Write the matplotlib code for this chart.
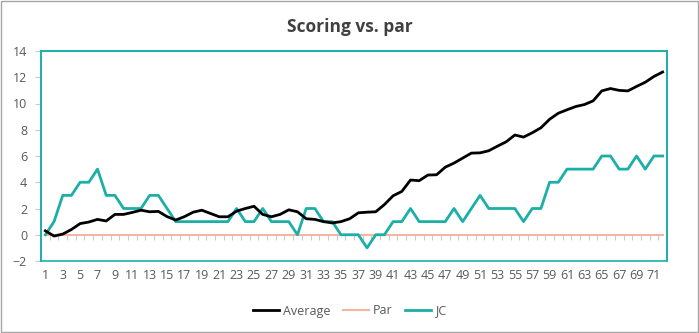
"""Scoring vs. par line chart."""
import matplotlib
matplotlib.use("Agg")
import matplotlib.pyplot as plt
from matplotlib.patches import Rectangle
import numpy as np

holes = list(range(1, 73))
average = [0.3, -0.1, 0.05, 0.4, 0.85, 0.97, 1.17, 1.05, 1.55, 1.55,
           1.7, 1.87, 1.75, 1.78, 1.38, 1.12, 1.38, 1.72, 1.87, 1.62,
           1.37, 1.37, 1.8, 2.0, 2.17, 1.55, 1.37, 1.55, 1.9, 1.75,
           1.22, 1.17, 1.0, 0.9, 1.0, 1.22, 1.67, 1.72, 1.75, 2.3,
           2.97, 3.3, 4.17, 4.12, 4.55, 4.57, 5.15, 5.46, 5.84, 6.22,
           6.24, 6.4, 6.75, 7.08, 7.6, 7.44, 7.77, 8.15, 8.8, 9.26,
           9.52, 9.77, 9.92, 10.2, 10.96, 11.14, 11.0, 10.96, 11.3, 11.62,
           12.06, 12.4]
par = [0] * 72
jc = [0, 1, 3, 3, 4, 4, 5, 3, 3, 2,
      2, 2, 3, 3, 2, 1, 1, 1, 1, 1,
      1, 1, 2, 1, 1, 2, 1, 1, 1, 0,
      2, 2, 1, 1, 0, 0, 0, -1, 0, 0,
      1, 1, 2, 1, 1, 1, 1, 2, 1, 2,
      3, 2, 2, 2, 2, 1, 2, 2, 4, 4,
      5, 5, 5, 5, 6, 6, 5, 5, 6, 5,
      6, 6]
y_ticks = list(range(-2, 15, 2))
x_labels = list(range(1, 72, 2))

plt.rcParams['font.family'] = ['Open Sans', 'DejaVu Sans']
text_grey = '#595959'
teal = '#1BAFA8'

fig = plt.figure(figsize=(6.99, 3.33), dpi=100)
ax = fig.add_axes([41 / 699, 72 / 333, 626 / 699, 210 / 333])

ax.plot(holes, average, color='black', lw=2, label='Average', zorder=4)
ax.plot(holes, par, color='#F5B5A4', lw=1.5, label='Par', zorder=2)
ax.plot(holes, jc, color=teal, lw=2, label='JC', zorder=3)

ax.set_xlim(0.5, 72.5)
ax.set_ylim(-2, 14)
ax.set_yticks(y_ticks)
ax.tick_params(axis='y', length=4, color='#C8C8C8', labelcolor=text_grey,
               labelsize=9, pad=6)

# category ticks sit on the zero line, labels stay at the bottom
ax.spines['bottom'].set_position(('data', 0))
ax.spines['bottom'].set_visible(False)
ax.set_xticks(np.arange(0.5, 73, 1))
ax.set_xticklabels([])
ax.tick_params(axis='x', length=3.5, color='#C8C8C8', width=0.7)

low = ax.secondary_xaxis(0)
low.set_xticks(x_labels)
low.tick_params(length=0, labelcolor=text_grey, labelsize=9, pad=6)
low.spines['bottom'].set_visible(False)

for side in ['left', 'right', 'top']:
    ax.spines[side].set_color(teal)
    ax.spines[side].set_linewidth(1.2)
ax.add_patch(Rectangle((0, 0), 1, 1, transform=ax.transAxes, fill=False,
                       edgecolor=teal, lw=1.2, zorder=5, clip_on=False))

fig.suptitle('Scoring vs. par', x=0.5, y=1 - 27 / 333, va='center',
             fontsize=12.5, fontweight='bold', color='#404040')

fig.legend(loc='center', bbox_to_anchor=(0.5, 1 - 311 / 333), ncol=3,
           frameon=False, fontsize=9, labelcolor=text_grey,
           handlelength=2.1, handletextpad=0.3, columnspacing=1.0)

fig.add_artist(Rectangle((1 / 699, 1 / 333), 697 / 699, 331 / 333,
                         transform=fig.transFigure, fill=False,
                         edgecolor='#A6A6A6', lw=1))

fig.savefig('out.png', dpi=100)
